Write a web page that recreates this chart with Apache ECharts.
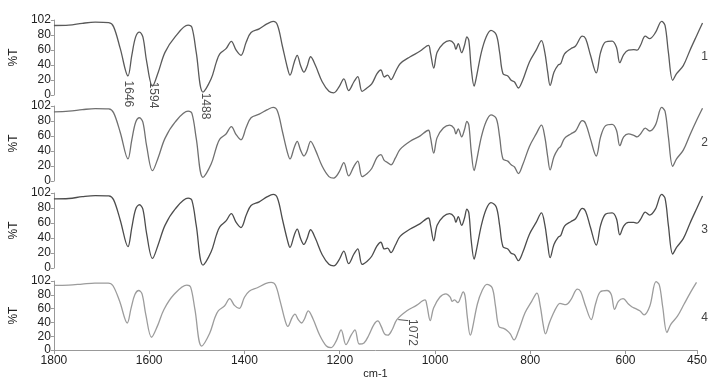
<!DOCTYPE html>
<html>
<head>
<meta charset="utf-8">
<script src="https://cdn.jsdelivr.net/npm/echarts@6/dist/echarts.min.js"></script>
<style>
  html, body { margin: 0; padding: 0; background: #fff; }
  #chart { width: 710px; height: 380px; }
</style>
</head>
<body>
<div id="chart"></div>
<script>
// wavenumbers (cm-1) shared by the four spectra
const wavenumbers = [1800, 1769, 1741, 1714, 1686, 1676, 1662, 1646, 1638, 1630, 1622, 1615, 1607, 1595, 1583, 1569, 1548, 1521, 1513, 1504, 1490, 1473, 1462, 1455, 1442, 1431, 1421, 1411, 1400, 1390, 1373, 1356, 1344, 1335, 1325, 1314, 1309, 1300, 1294, 1287, 1280, 1274, 1266, 1256, 1242, 1228, 1218, 1207, 1197, 1187, 1176, 1168, 1159, 1149, 1139, 1128, 1120, 1113, 1106, 1099, 1090, 1080, 1059, 1039, 1021, 1017, 1010, 1003, 990, 977, 968, 964, 959, 952, 946, 941, 937, 932, 926, 922, 911, 901, 891, 880, 873, 866, 856, 849, 842, 834, 825, 811, 797, 786, 779, 773, 768, 760, 751, 746, 738, 725, 715, 701, 694, 684, 672, 663, 653, 639, 630, 623, 615, 605, 594, 587, 580, 570, 561, 549, 536, 529, 522, 513, 505, 491, 477, 463, 451];

// %T of each spectrum
const t1 = [94.5, 95, 97.5, 99, 98.3, 93, 63, 26, 54, 79, 85.5, 79, 45, 12, 31, 58, 79, 95, 92, 58, 4, 22, 45, 56, 63, 73, 61, 54, 72, 85, 90, 97, 100, 95, 67, 36, 27, 45, 54, 40, 31, 38, 52, 40, 18, 5, 3, 11, 22, 6, 18, 25, 5, 9.5, 15, 29, 34, 24.5, 27, 21, 31, 42.6, 52, 59.4, 67.6, 58, 36.7, 58, 70, 74, 70, 62, 70, 57.5, 67.6, 79, 74, 36, 12, 22, 58, 79, 88, 82, 58, 29, 26, 20, 17.7, 9.5, 20, 45, 61, 74, 58, 31, 13, 31, 41, 42.6, 56, 63, 66.6, 80, 76.6, 54, 30, 58, 72, 73.4, 65, 44, 55, 61, 61.6, 61, 67.6, 80, 76.6, 84.7, 100, 94.8, 58, 20, 29, 40, 61, 81, 98];
const t2 = [94, 95, 97, 98.5, 98, 93, 66, 30, 56, 80, 86, 80, 47, 14, 32, 58, 80, 95, 92, 58, 5, 23, 46, 57, 64, 74, 63, 56, 73, 86, 91, 97, 100, 95, 68, 38, 30, 46, 54, 42, 34, 40, 54, 42, 20, 6, 4, 12, 25, 7, 20, 27, 6, 10, 17, 32, 36, 28, 25, 22, 31, 43, 54, 61, 69, 60, 38, 59, 72, 76, 72, 64, 71, 60, 70, 81, 76, 40, 14, 24, 60, 81, 90, 85, 60, 30, 27, 22, 19, 10, 22, 47, 64, 76, 60, 33, 15, 33, 44, 47, 58, 64, 68, 82, 78, 57, 34, 60, 75, 77, 69, 48, 60, 64, 62, 60, 64, 72, 68, 76, 100, 95, 60, 20, 30, 42, 63, 83, 99];
const t3 = [94, 94.5, 97, 98.5, 98, 93, 65, 29, 55, 80, 86, 80, 46, 13, 32, 58, 80, 95, 92, 58, 4, 22, 45, 56, 64, 74, 62, 55, 72, 85, 90, 97, 100, 95, 67, 37, 28, 45, 53, 40, 32, 39, 52, 40, 18, 5, 3, 11, 23, 6, 19, 26, 5, 9, 16, 30, 35, 26, 27, 21, 31, 43, 53, 60, 68, 59, 37, 58, 70, 74, 70, 62, 70, 58, 68, 80, 75, 37, 12, 22, 58, 80, 89, 83, 58, 29, 26, 20, 18, 10, 21, 46, 62, 75, 59, 32, 14, 32, 42, 44, 57, 63, 67, 81, 77, 55, 31, 58, 73, 75, 67, 45, 57, 62, 62, 61, 66, 76, 72, 80, 100, 95, 58, 19, 28, 40, 61, 81, 98];
const t4 = [95.6, 96, 97.5, 99, 99, 95, 72, 40, 62, 82, 88, 83, 52, 19, 35, 60, 82, 96, 93, 60, 6, 25, 48, 58, 65, 76, 66, 61.6, 78, 87, 92, 98, 100, 96, 72, 42, 35, 48, 53, 45, 40, 46, 58, 46, 22, 6, 3.6, 14, 30, 8, 22, 30, 9, 10.5, 22, 38, 43, 35, 24, 22, 30, 45, 58, 66, 74, 66, 43.5, 62, 78, 83, 78, 72, 74, 70, 78, 86, 80, 48, 22, 30, 68, 88, 97, 92, 65, 35, 32, 29, 24, 15, 28, 55, 72, 84, 65, 38, 24, 40, 55, 62, 69, 67, 74, 90, 86, 65, 45, 68, 86, 88, 82, 60, 72, 76, 68, 64, 61.6, 58, 52, 65, 101, 96, 64, 26, 38, 50, 68, 86, 100];

const spectra = [t1, t2, t3, t4];
const panelNames = ['1', '2', '3', '4'];
const lineColors = ['#5a5a5a', '#707070', '#4c4c4c', '#9c9c9c'];
const xTicks = [1800, 1600, 1400, 1200, 1000, 800, 600, 450];
const yTickLabels = ['0', '20', '40', '60', '80', '102'];

// peak labels: panel, wavenumber, %T of label top, text
const annotPanel = [0, 0, 0, 3];
const annotX = [1645, 1593, 1484, 1046];
const annotY = [19, 17.5, 2.5, 45];
const annotText = ['1646', '1594', '1488', '1072'];

const FONT = 'Liberation Sans, Arial, sans-serif';
const tops = [20, 106, 193, 281];
const H = 75;

const chart = echarts.init(document.getElementById('chart'), null, { renderer: 'canvas' });

const grid = tops.map(t => ({ left: 50, right: 7, top: t, height: H }));

const xAxis = tops.map((t, i) => ({
    gridIndex: i,
    type: 'value',
    min: 450,
    max: 1800,
    inverse: true,
    axisLine: { show: i === 3, lineStyle: { color: '#999', width: 1 } },
    axisTick: { show: i === 3, customValues: xTicks, length: 4, lineStyle: { color: '#999' } },
    axisLabel: {
        show: i === 3, customValues: xTicks, fontSize: 12, color: '#222', margin: 5,
        fontFamily: FONT, formatter: v => String(v)
    },
    splitLine: { show: false },
    name: i === 3 ? 'cm-1' : '',
    nameLocation: 'middle',
    nameGap: 17,
    nameTextStyle: { fontSize: 11, color: '#222', fontFamily: FONT }
}));

const yAxis = tops.map((t, i) => ({
    gridIndex: i,
    type: 'value',
    min: 0,
    max: 102,
    interval: 20.4,
    axisLine: { show: true, lineStyle: { color: '#999', width: 1 } },
    axisTick: { show: true, length: 3, lineStyle: { color: '#999' } },
    axisLabel: {
        fontSize: 12, color: '#222', margin: 3, fontFamily: FONT,
        formatter: v => yTickLabels[Math.round(v / 20.4)]
    },
    splitLine: { show: false },
    name: '%T',
    nameLocation: 'middle',
    nameRotate: 90,
    nameGap: 31,
    nameTextStyle: { fontSize: 12, color: '#222', fontFamily: FONT }
}));

const series = spectra.map((vals, i) => ({
    type: 'line',
    xAxisIndex: i,
    yAxisIndex: i,
    data: wavenumbers.map((w, k) => [w, vals[k]]),
    showSymbol: false,
    smooth: 0.35,
    lineStyle: { color: lineColors[i], width: 1.3 },
    itemStyle: { color: lineColors[i] },
    animation: false,
    silent: true
}));

// peak annotation labels
for (let p = 0; p < 4; p++) {
    const pts = [];
    for (let k = 0; k < annotX.length; k++) {
        if (annotPanel[k] === p) pts.push([annotX[k], annotY[k], annotText[k]]);
    }
    if (!pts.length) continue;
    series.push({
        type: 'scatter',
        xAxisIndex: p,
        yAxisIndex: p,
        data: pts,
        symbolSize: 1,
        itemStyle: { color: 'rgba(0,0,0,0)' },
        clip: false,
        silent: true,
        animation: false,
        label: {
            show: true,
            position: [0, 0],
            rotate: -90,
            align: 'left',
            verticalAlign: 'middle',
            fontSize: 12,
            color: '#222',
            fontFamily: FONT,
            formatter: d => d.data[2]
        }
    });
}

// leader line to the 1072 label
series.push({
    type: 'line',
    xAxisIndex: 3,
    yAxisIndex: 3,
    data: [[1077, 45], [1056, 43.5]],
    showSymbol: false,
    lineStyle: { color: '#555', width: 1 },
    silent: true,
    animation: false
});

const graphic = tops.map((t, i) => ({
    type: 'text',
    right: 2,
    top: t + 31,
    style: { text: panelNames[i], fontSize: 12, fill: '#444', fontFamily: FONT }
}));

chart.setOption({
    backgroundColor: '#ffffff',
    animation: false,
    grid,
    xAxis,
    yAxis,
    series,
    graphic
});
</script>
</body>
</html>
